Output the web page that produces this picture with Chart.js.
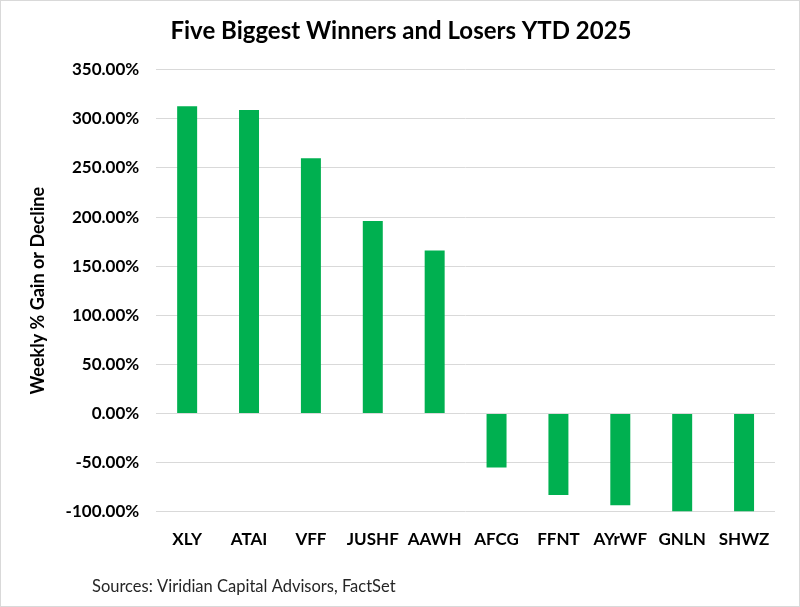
<!DOCTYPE html>
<html>
<head>
<meta charset="utf-8">
<script src="https://cdn.jsdelivr.net/npm/chart.js@4"></script>
<style>
  html, body { margin: 0; padding: 0; background: #fff; }
  #wrap { position: relative; width: 798px; height: 605px; border: 1px solid #d9d9d9; }
</style>
</head>
<body>
<div id="wrap"><canvas id="chart"></canvas></div>
<script>
const tickers = ["XLY", "ATAI", "VFF", "JUSHF", "AAWH", "AFCG", "FFNT", "AYrWF", "GNLN", "SHWZ"];
const ytdChange = [313, 309, 260, 196, 166, -55, -83, -93.5, -100, -100];
const source = "Sources: Viridian Capital Advisors, FactSet";

const fontFamily = "Lato, 'Open Sans', sans-serif";

const sourceNote = {
  id: "sourceNote",
  afterDraw(chart) {
    const ctx = chart.ctx;
    ctx.save();
    ctx.font = "16.5px " + fontFamily;
    ctx.fillStyle = "#262626";
    ctx.textBaseline = "middle";
    ctx.fillText(source, 91, 586);
    ctx.restore();
  },
};

new Chart(document.querySelector("#chart"), {
  type: "bar",
  data: {
    labels: tickers,
    datasets: [
      {
        data: ytdChange,
        backgroundColor: "#00b050",
        barPercentage: 0.323,
        categoryPercentage: 1,
      },
    ],
  },
  options: {
    responsive: true,
    maintainAspectRatio: false,
    animation: false,
    layout: { padding: { left: 26, right: 24, top: 0, bottom: 38 } },
    plugins: {
      legend: { display: false },
      tooltip: { enabled: false },
      title: {
        display: true,
        text: "Five Biggest Winners and Losers YTD 2025",
        color: "#000",
        font: { family: fontFamily, size: 24, weight: "bold" },
        padding: { top: 16, bottom: 24 },
      },
    },
    scales: {
      x: {
        grid: { display: false, drawTicks: false },
        border: { display: false },
        ticks: {
          color: "#000",
          padding: 18,
          font: { family: fontFamily, size: 17, weight: "bold" },
        },
      },
      y: {
        min: -100,
        max: 350,
        grid: { color: "#d9d9d9", drawTicks: false, lineWidth: 1 },
        border: { display: false },
        ticks: {
          stepSize: 50,
          color: "#000",
          padding: 17,
          font: { family: fontFamily, size: 17, weight: "bold" },
          callback: (v) => v.toFixed(2) + "%",
        },
        title: {
          display: true,
          text: "Weekly % Gain or Decline",
          color: "#000",
          font: { family: fontFamily, size: 18, weight: "bold" },
          padding: { top: 0, bottom: 0 },
        },
      },
    },
  },
  plugins: [sourceNote],
});
</script>
</body>
</html>
